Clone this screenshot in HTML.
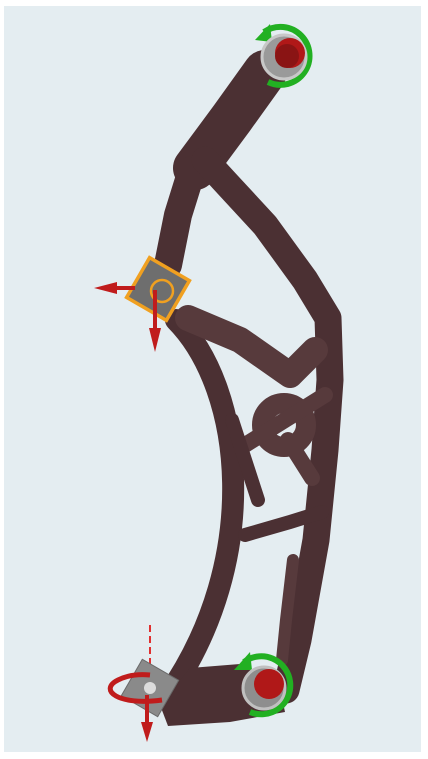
<!DOCTYPE html>
<html><head><meta charset="utf-8"><style>
html,body{margin:0;padding:0;background:#fff;width:428px;height:759px;overflow:hidden}
svg{display:block}
</style></head><body>
<svg width="428" height="759" viewBox="0 0 428 759">
<rect x="4" y="6" width="417" height="746" fill="#e4edf1"/>
<g fill="none" stroke="#4b3033" stroke-linejoin="round" stroke-linecap="round">
 <path d="M265,72 L232,118 L195,168" stroke-width="44"/>
 <path d="M192,170 L178,215 L168,265" stroke-width="28"/>
 <path d="M205,160 L228,185 L265,225 L305,280 L328,318 L330,380 L325,450 L316,540 L298,640 L286,690" stroke-width="27"/>
 <path d="M176,320 C245,390 262,560 168,695" stroke-width="22"/>
 <path d="M188,318 L240,340 L290,375 L315,350" stroke-width="26" stroke="#573a3c"/>
 <circle cx="284" cy="425" r="22" stroke-width="20" stroke="#573a3c"/>
 <path d="M245,445 L285,420 L325,395" stroke-width="16" stroke="#573a3c"/>
 <path d="M288,440 L312,478" stroke-width="16" stroke="#573a3c"/>
 <path d="M232,420 L258,500" stroke-width="14"/>
 <path d="M245,535 L290,522 L322,512" stroke-width="14"/>
 <path d="M293,560 L286,620 L282,660" stroke-width="12" stroke="#573a3c"/>
</g>
<polygon points="160,705 190,668 240,664 278,680 285,712 230,722 168,726" fill="#4b3033"/>
<g>
 <path d="M264,32 A29,29 0 1 1 268,82" fill="none" stroke="#22b022" stroke-width="6"/>
 <polygon points="255,40 270,24 272,42" fill="#22b022"/>
 <circle cx="284" cy="57" r="22" fill="#9a9a9a" stroke="#c8c8c8" stroke-width="3"/>
 <circle cx="290" cy="53" r="15" fill="#b01818"/>
 <circle cx="287" cy="56" r="12" fill="#8a1414"/>
</g>
<g>
 <path d="M244,662 A29,29 0 1 1 250,712" fill="none" stroke="#22b022" stroke-width="6"/>
 <polygon points="234,670 250,652 252,670" fill="#22b022"/>
 <circle cx="264" cy="688" r="21" fill="#8e8e8e" stroke="#c0c0c0" stroke-width="3"/>
 <circle cx="269" cy="684" r="15" fill="#b01818"/>
</g>
<g>
 <rect x="-23" y="-23" width="46" height="46" transform="translate(158,289) rotate(30)" fill="#6e6e6e" stroke="#f0a020" stroke-width="3.5"/>
 <circle cx="162" cy="291" r="11" fill="none" stroke="#f0a020" stroke-width="2.5"/>
 <line x1="135" y1="288" x2="110" y2="288" stroke="#c01c1c" stroke-width="4"/>
 <polygon points="94,288 117,282 117,294" fill="#c01c1c"/>
 <line x1="155" y1="290" x2="155" y2="335" stroke="#c01c1c" stroke-width="4"/>
 <polygon points="155,352 149,328 161,328" fill="#c01c1c"/>
</g>
<g>
 <line x1="150" y1="625" x2="150" y2="665" stroke="#e03030" stroke-width="2" stroke-dasharray="7,4"/>
 <rect x="-21" y="-21" width="42" height="42" transform="translate(150,688) rotate(30)" fill="#8a8a8a" stroke="#6a6a6a" stroke-width="1"/>
 <path d="M162,700 C118,706 98,690 118,680 C128,675 140,674 150,675" fill="none" stroke="#c01c1c" stroke-width="5"/>
 <line x1="147" y1="695" x2="147" y2="725" stroke="#c01c1c" stroke-width="4"/>
 <polygon points="147,742 141,722 153,722" fill="#c01c1c"/>
 <circle cx="150" cy="688" r="6" fill="#fff" opacity="0.7"/>
</g>
</svg>
</body></html>
